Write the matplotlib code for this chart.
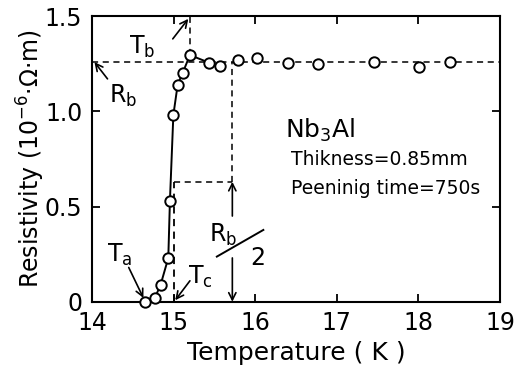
import matplotlib
matplotlib.use("Agg")
import matplotlib.pyplot as plt

# Data
temperature = [14.65, 14.77, 14.84, 14.935, 14.955, 14.997, 15.05, 15.11, 15.2,
               15.44, 15.57, 15.79, 16.02, 16.40, 16.77, 17.46, 18.01, 18.39]
resistivity = [0.0, 0.02, 0.088, 0.23, 0.53, 0.98, 1.14, 1.20, 1.295,
               1.254, 1.237, 1.267, 1.277, 1.253, 1.25, 1.257, 1.233, 1.257]
n_solid = 10
Rb = 1.26
Tc = 15.0
Tb = 15.2
T_half = 15.72
x_ticks = [14, 15, 16, 17, 18, 19]
y_ticks = [0, 0.5, 1.0, 1.5]
y_ticklabels = ["0", "0.5", "1.0", "1.5"]

plt.rcParams['font.family'] = ['DejaVu Sans']
fig = plt.figure(figsize=(5.21, 3.68), dpi=100)
ax = fig.add_axes([0.1766, 0.180, 0.783, 0.7765])

ax.set_xlim(14, 19)
ax.set_ylim(0, 1.5)

dash = (0, (4, 3))
# reference dashed lines
ax.plot([14, 19], [Rb, Rb], ls=dash, color='black', lw=1.1, zorder=1)
ax.plot([Tb, Tb], [resistivity[8], 1.5], ls=dash, color='black', lw=1.1)
ax.plot([Tc, Tc], [0, Rb / 2], ls=dash, color='black', lw=1.3)
ax.plot([Tc, T_half], [Rb / 2, Rb / 2], ls=dash, color='black', lw=1.1)
ax.plot([T_half, T_half], [Rb / 2, Rb], ls=dash, color='black', lw=1.1)

# data
ax.plot(temperature[:n_solid], resistivity[:n_solid], '-', color='black', lw=1.4, zorder=2)
ax.plot(temperature, resistivity, 'o', mfc='white', mec='black', mew=1.4, ms=7.5,
        zorder=3, clip_on=False)

arrow = dict(arrowstyle='->', color='black', lw=1.2, mutation_scale=13, shrinkA=0, shrinkB=0)
# Rb/2 arrows
ax.annotate('', xy=(T_half, Rb / 2), xytext=(T_half, 0.45), arrowprops=arrow)
ax.annotate('', xy=(T_half, 0.0), xytext=(T_half, 0.23), arrowprops=arrow)

fs = 17
# label arrows
ax.annotate('', xy=(15.18, 1.485), xytext=(14.99, 1.38), arrowprops=arrow)
ax.annotate('', xy=(14.03, 1.258), xytext=(14.19, 1.17), arrowprops=arrow)
ax.annotate('', xy=(14.63, 0.02), xytext=(14.45, 0.18), arrowprops=arrow)
ax.annotate('', xy=(15.02, 0.008), xytext=(15.2, 0.11), arrowprops=arrow)

ax.text(14.62, 1.34, 'T$_\\mathrm{b}$', fontsize=fs, ha='center', va='center')
ax.text(14.38, 1.08, 'R$_\\mathrm{b}$', fontsize=fs, ha='center', va='center')
ax.text(14.34, 0.245, 'T$_\\mathrm{a}$', fontsize=fs, ha='center', va='center')
ax.text(15.33, 0.13, 'T$_\\mathrm{c}$', fontsize=fs, ha='center', va='center')
ax.text(15.61, 0.35, 'R$_\\mathrm{b}$', fontsize=fs, ha='center', va='center')
ax.plot([15.53, 16.10], [0.237, 0.377], color='black', lw=1.4)
ax.text(16.03, 0.23, '2', fontsize=fs, ha='center', va='center')

ax.text(16.36, 0.90, 'Nb$_3$Al', fontsize=18, ha='left', va='center')
ax.text(16.44, 0.745, 'Thikness=0.85mm', fontsize=13.5, ha='left', va='center')
ax.text(16.44, 0.595, 'Peeninig time=750s', fontsize=13.5, ha='left', va='center')

ax.set_xticks(x_ticks)
ax.set_yticks(y_ticks)
ax.set_yticklabels(y_ticklabels)
ax.tick_params(direction='in', top=True, right=True, length=6, width=1.3, labelsize=17)
ax.tick_params(axis='x', pad=7)
ax.tick_params(axis='y', pad=7)
for s in ax.spines.values():
    s.set_linewidth(1.5)
ax.set_xlabel('Temperature ( K )', fontsize=18, labelpad=4)
ax.set_ylabel('Resistivity (10$^{-6}$·Ω·m)', fontsize=17)
ax.yaxis.set_label_coords(-0.11, 0.5)

fig.savefig('out.png', dpi=100)
